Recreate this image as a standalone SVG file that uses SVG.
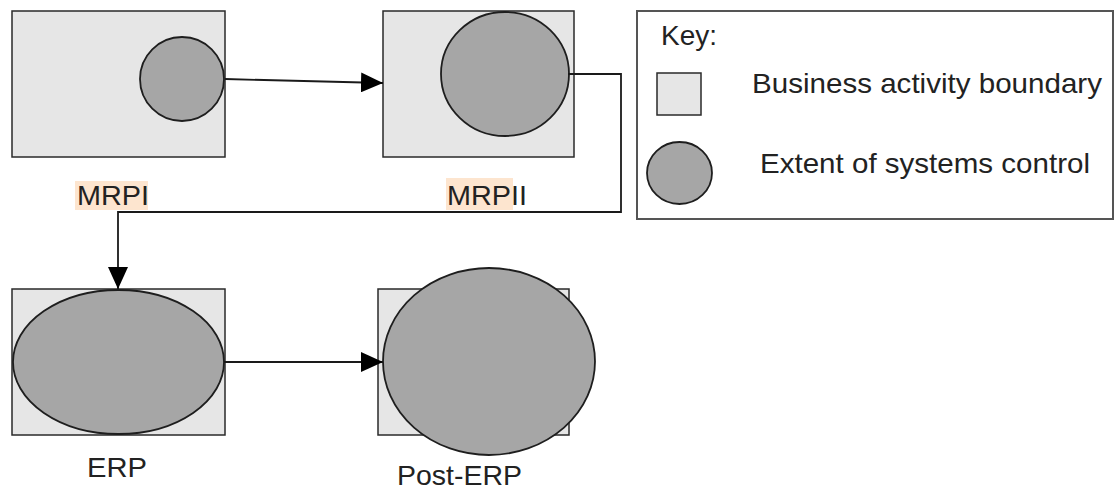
<svg xmlns="http://www.w3.org/2000/svg" width="1115" height="489" viewBox="0 0 1115 489">
<defs>
<marker id="arr" viewBox="0 0 22 20" refX="22" refY="10" markerWidth="22" markerHeight="20" markerUnits="userSpaceOnUse" orient="auto">
<path d="M0,0 L22,10 L0,20 Z" fill="#000"/>
</marker>
</defs>
<style>
.box{fill:#e6e6e6;stroke:#2a2a2a;stroke-width:1.5}
.ctl{fill:#a6a6a6;stroke:#1e1e1e;stroke-width:1.8}
.lbl{font-family:"Liberation Sans",Arial,sans-serif;font-size:28px;fill:#222}
.hl{fill:#fde5cf}
.conn{fill:none;stroke:#1a1a1a;stroke-width:1.8}
</style>
<rect width="1115" height="489" fill="#fff"/>
<g id="mrpi">
<rect class="box" x="12" y="11" width="213" height="146"/>
<circle class="ctl" cx="182" cy="79" r="42"/>
<rect class="hl" x="75" y="181" width="73" height="29"/>
<text class="lbl" x="77" y="205" textLength="72" lengthAdjust="spacingAndGlyphs">MRPI</text>
</g>
<g id="mrpii">
<rect class="box" x="383" y="11" width="191" height="146"/>
<ellipse class="ctl" cx="505" cy="74" rx="64" ry="62"/>
<rect class="hl" x="446" y="178" width="67" height="32"/>
<text class="lbl" x="447" y="205" textLength="80" lengthAdjust="spacingAndGlyphs">MRPII</text>
</g>
<g id="erp">
<rect class="box" x="12" y="289" width="213" height="146"/>
<ellipse class="ctl" cx="118.5" cy="362" rx="105.5" ry="72"/>
<text class="lbl" x="87" y="477" textLength="60" lengthAdjust="spacingAndGlyphs">ERP</text>
</g>
<g id="post-erp">
<rect class="box" x="378" y="289" width="191" height="146"/>
<ellipse class="ctl" cx="489" cy="361.5" rx="106" ry="93.5"/>
<text class="lbl" x="397" y="485" textLength="125" lengthAdjust="spacingAndGlyphs">Post-ERP</text>
</g>
<g id="key">
<rect x="637" y="11" width="476" height="208" fill="#fff" stroke="#555" stroke-width="2"/>
<text class="lbl" x="661" y="45" textLength="56" lengthAdjust="spacingAndGlyphs">Key:</text>
<rect class="box" x="657" y="73" width="44" height="42"/>
<text class="lbl" x="752" y="93" textLength="350" lengthAdjust="spacingAndGlyphs">Business activity boundary</text>
<ellipse class="ctl" cx="679.5" cy="173" rx="32.5" ry="31"/>
<text class="lbl" x="760" y="173" textLength="330" lengthAdjust="spacingAndGlyphs">Extent of systems control</text>
</g>
<g id="connectors">
<line class="conn" x1="225" y1="79" x2="383" y2="83" marker-end="url(#arr)"/>
<polyline class="conn" points="568,74 621,74 621,212 118,212 118,289" marker-end="url(#arr)"/>
<line class="conn" x1="224" y1="362" x2="383" y2="362" marker-end="url(#arr)"/>
</g>
</svg>
